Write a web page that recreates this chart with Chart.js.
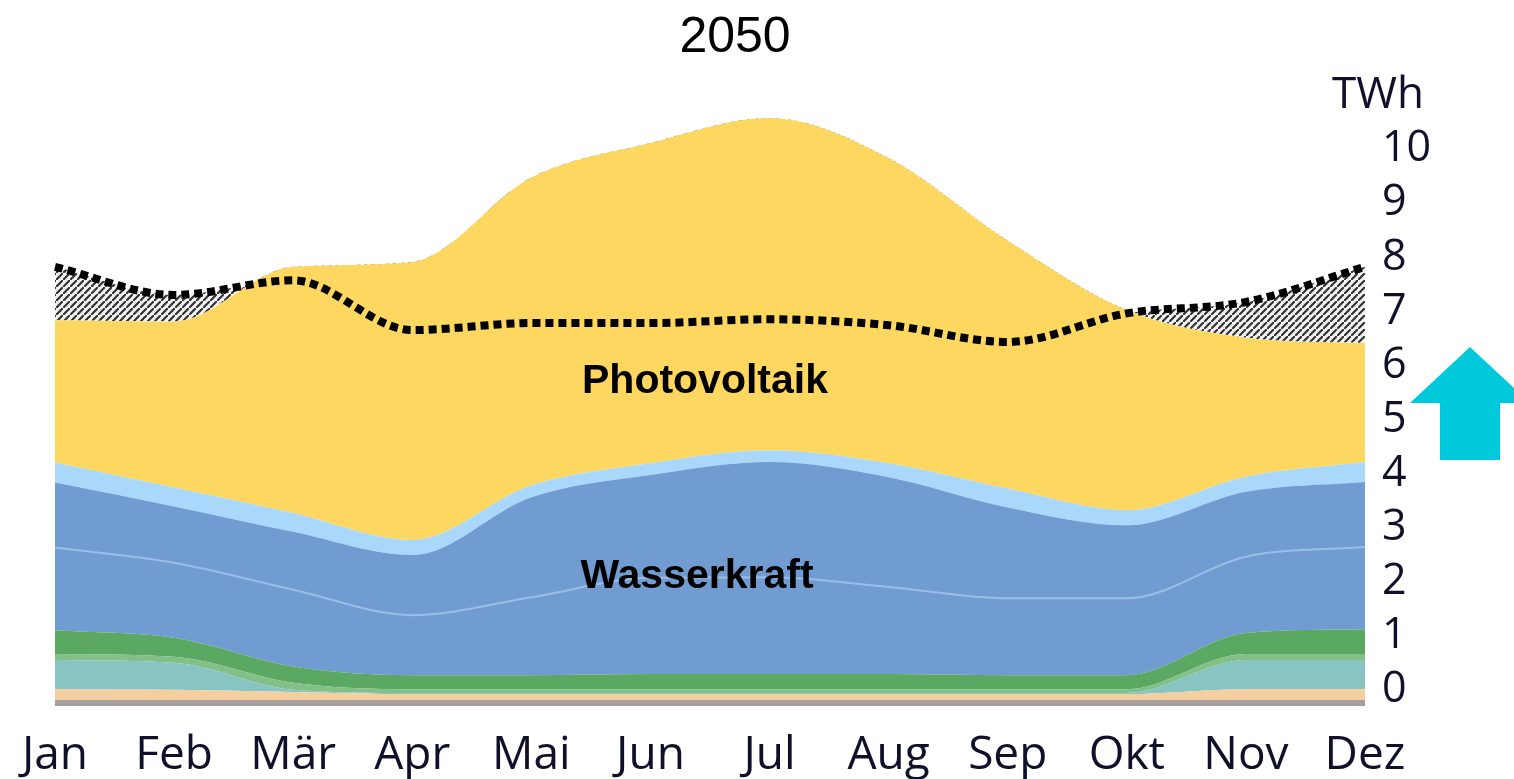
<!DOCTYPE html>
<html>
<head>
<meta charset="utf-8">
<script src="https://cdn.jsdelivr.net/npm/chart.js@4.4.1/dist/chart.umd.min.js"></script>
<style>
  body { margin: 0; background: #fff; }
  #wrap { width: 1514px; height: 779px; position: relative; }
</style>
</head>
<body>
<div id="wrap"><canvas id="chart"></canvas></div>
<script>
// values in TWh
const months = ['Jan', 'Feb', 'Mär', 'Apr', 'Mai', 'Jun', 'Jul', 'Aug', 'Sep', 'Okt', 'Nov', 'Dez'];
const greyBand = [0.11, 0.11, 0.11, 0.11, 0.11, 0.11, 0.11, 0.11, 0.11, 0.11, 0.11, 0.11];
const peachBand = [0.20, 0.19, 0.15, 0.11, 0.11, 0.11, 0.11, 0.11, 0.11, 0.11, 0.20, 0.20];
const tealBand = [0.54, 0.50, 0.04, 0.02, 0.02, 0.02, 0.02, 0.02, 0.02, 0.02, 0.54, 0.54];
const lightGreenBand = [0.11, 0.11, 0.13, 0.07, 0.07, 0.07, 0.07, 0.07, 0.07, 0.07, 0.11, 0.11];
const greenBand = [0.44, 0.35, 0.30, 0.26, 0.26, 0.28, 0.28, 0.28, 0.26, 0.26, 0.39, 0.46];
const hydroLower = [1.53, 1.39, 1.42, 1.11, 1.44, 1.78, 1.79, 1.61, 1.42, 1.42, 1.41, 1.52];
const hydroUpper = [1.20, 1.04, 1.07, 1.11, 1.85, 1.90, 2.13, 2.03, 1.68, 1.35, 1.20, 1.20];
const lightBlueBand = [0.37, 0.35, 0.35, 0.28, 0.22, 0.22, 0.22, 0.26, 0.35, 0.28, 0.28, 0.37];
const photovoltaik = [2.63, 3.07, 4.55, 5.14, 5.69, 5.92, 6.14, 5.64, 4.58, 3.70, 2.57, 2.20];
const demand = [8.12, 7.60, 7.87, 6.95, 7.08, 7.08, 7.15, 7.04, 6.73, 7.26, 7.47, 8.12];
const yTicks = [0, 1, 2, 3, 4, 5, 6, 7, 8, 9, 10];

function hatchPattern() {
    const s = 7;
    const c = document.createElement('canvas');
    c.width = s;
    c.height = s;
    const g = c.getContext('2d');
    g.fillStyle = '#f4f4f4';
    g.fillRect(0, 0, s, s);
    g.strokeStyle = '#333';
    g.lineWidth = 2.2;
    g.beginPath();
    g.moveTo(-1, s + 1); g.lineTo(s + 1, -1);
    g.moveTo(-s - 1, 1); g.lineTo(1, -s - 1);
    g.moveTo(s - 1, 2 * s + 1); g.lineTo(2 * s + 1, s - 1);
    g.stroke();
    return g.createPattern(c, 'repeat');
}

function area(label, data, color, extra) {
    return Object.assign({
        label,
        data,
        stack: 'supply',
        backgroundColor: color,
        borderWidth: 0,
        borderColor: color,
        pointRadius: 0,
        fill: '-1',
        cubicInterpolationMode: 'monotone',
    }, extra || {});
}

const decorations = {
    id: 'decorations',
    afterDraw(chart) {
        const ctx = chart.ctx;
        ctx.save();
        ctx.fillStyle = '#000';
        ctx.textAlign = 'center';
        ctx.textBaseline = 'middle';
        ctx.font = '50px "Liberation Sans", Arial, sans-serif';
        ctx.fillText('2050', 735, 38);
        ctx.font = 'bold 41px "Liberation Sans", Arial, sans-serif';
        ctx.fillText('Photovoltaik', 705, 382);
        ctx.fillText('Wasserkraft', 697, 577);
        ctx.fillStyle = '#10102a';
        ctx.font = '44px "Open Sans", sans-serif';
        ctx.fillText('TWh', 1378, 95);

        ctx.fillStyle = '#00c9dc';
        ctx.beginPath();
        ctx.moveTo(1470, 347);
        ctx.lineTo(1530, 403);
        ctx.lineTo(1500, 403);
        ctx.lineTo(1500, 460);
        ctx.lineTo(1440, 460);
        ctx.lineTo(1440, 403);
        ctx.lineTo(1410, 403);
        ctx.closePath();
        ctx.fill();
        ctx.restore();
    },
};

new Chart(document.getElementById('chart'), {
    type: 'line',
    data: {
        labels: months,
        datasets: [
            {
                label: 'Verbrauch',
                data: demand,
                stack: 'demand',
                borderColor: '#000',
                borderWidth: 8,
                borderDash: [8, 5],
                pointRadius: 0,
                cubicInterpolationMode: 'monotone',
                fill: { target: 9, above: hatchPattern(), below: 'rgba(0,0,0,0)' },
            },
            area('Grau', greyBand, '#a79e9e', { fill: 'origin' }),
            area('Pfirsich', peachBand, '#f6cfa0'),
            area('Türkis', tealBand, '#87c4c2'),
            area('Hellgrün', lightGreenBand, '#82c088'),
            area('Grün', greenBand, '#5aa862'),
            area('Wasserkraft unten', hydroLower, '#709cd2', { borderWidth: 2, borderColor: '#9cbde6' }),
            area('Wasserkraft oben', hydroUpper, '#709cd2'),
            area('Hellblau', lightBlueBand, '#a9d8fa'),
            area('Photovoltaik', photovoltaik, '#fed760'),
        ],
    },
    options: {
        responsive: true,
        maintainAspectRatio: false,
        animation: false,
        layout: { padding: { left: 55, top: 84, right: 0, bottom: 0 } },
        plugins: {
            legend: { display: false },
            tooltip: { enabled: false },
        },
        scales: {
            x: {
                grid: { display: false },
                border: { display: false },
                ticks: {
                    color: '#10102a',
                    font: { family: 'Open Sans', size: 46 },
                    padding: 14,
                    maxRotation: 0,
                    autoSkip: false,
                },
                afterFit: (scale) => { scale.height = 73; },
            },
            y: {
                position: 'right',
                stacked: true,
                min: 0,
                max: 11.5,
                grid: { display: false },
                border: { display: false },
                afterBuildTicks: (scale) => { scale.ticks = yTicks.map((v) => ({ value: v })); },
                ticks: {
                    color: '#10102a',
                    font: { family: 'Open Sans', size: 43 },
                    padding: 9,
                    labelOffset: -16,
                },
                afterFit: (scale) => { scale.width = 149; },
            },
        },
    },
    plugins: [decorations],
});
</script>
</body>
</html>
